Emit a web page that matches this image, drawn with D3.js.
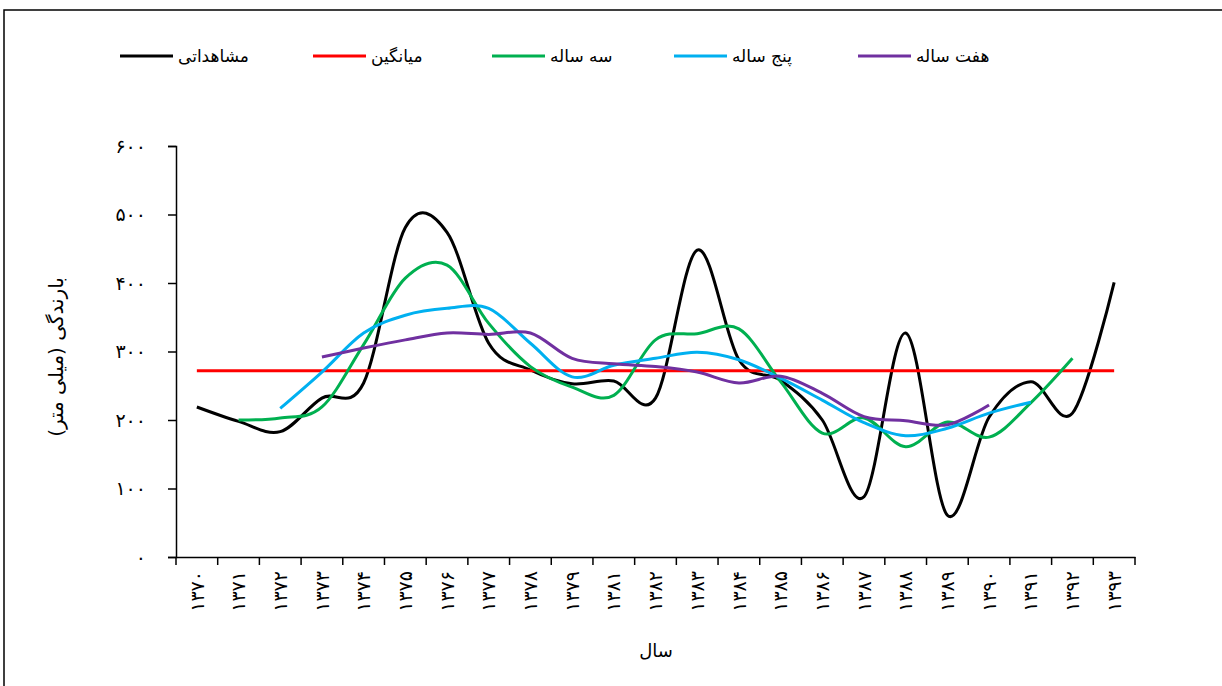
<!DOCTYPE html>
<html>
<head>
<meta charset="utf-8">
<script src="https://cdn.jsdelivr.net/npm/d3@7"></script>
<style>
  html, body { margin: 0; padding: 0; background: #fff; }
  svg { display: block; }
  text { font-family: "DejaVu Sans", sans-serif; }
</style>
</head>
<body>
<svg id="chart" width="1222" height="686"></svg>
<script>
const categories = ["۱۳۷۰","۱۳۷۱","۱۳۷۲","۱۳۷۳","۱۳۷۴","۱۳۷۵","۱۳۷۶","۱۳۷۷","۱۳۷۸","۱۳۷۹","۱۳۸۱","۱۳۸۲","۱۳۸۳","۱۳۸۴","۱۳۸۵","۱۳۸۶","۱۳۸۷","۱۳۸۸","۱۳۸۹","۱۳۹۰","۱۳۹۱","۱۳۹۲","۱۳۹۳"];
const observed = [219,198,183,232,254,481,474,312,273,253,257,232,448,288,258,200,88,327,61,204,256,210,401];
const meanValue = 272;
const threeYear = [null,200,203,219,310,407,426,341,278,248,236,317,326,333,256,181,203,161,197,175,225,290,null];
const fiveYear = [null,null,217,270,327,353,363,363,312,263,280,290,299,288,261,229,196,177,188,210,226,null,null];
const sevenYear = [null,null,null,292,305,317,327,325,327,290,282,278,270,254,264,239,205,199,193,222,null,null,null];
const yTicks = [0,100,200,300,400,500,600];
const yTickLabels = ["۰","۱۰۰","۲۰۰","۳۰۰","۴۰۰","۵۰۰","۶۰۰"];
const seriesNames = ["مشاهداتی","میانگین","سه ساله","پنج ساله","هفت ساله"];
const seriesColors = ["#000000","#FF0000","#00B050","#00B0F0","#7030A0"];
const xTitle = "سال";
const yTitle = "بارندگی (میلی متر)";

const svg = d3.select("#chart");

// outer border
svg.append("rect").attr("x", 4).attr("y", 10).attr("width", 1400).attr("height", 900)
  .attr("fill", "none").attr("stroke", "#000").attr("stroke-width", 1.5);

const pLeft = 176, pRight = 1135, pTop = 146, pBottom = 557;
const x = d3.scaleBand().domain(categories).range([pLeft, pRight]).padding(0);
const y = d3.scaleLinear().domain([0, 600]).range([pBottom, pTop]);
const cx = c => x(c) + x.bandwidth() / 2;

// y axis
const yAxis = d3.axisLeft(y).tickValues(yTicks).tickSize(8).tickPadding(22)
  .tickFormat((d, i) => yTickLabels[i]);
const gy = svg.append("g").attr("transform", `translate(${pLeft},0)`).call(yAxis);
gy.select(".domain").attr("stroke", "#000").attr("stroke-width", 1.5);
gy.selectAll(".tick line").attr("stroke", "#000").attr("stroke-width", 1.5);
gy.selectAll(".tick text").attr("font-size", 19).attr("fill", "#000")
  .attr("font-family", "DejaVu Sans, sans-serif");

// x axis: labels via axis, boundary ticks separately
const xAxis = d3.axisBottom(x).tickSize(0).tickPadding(0);
const gx = svg.append("g").attr("transform", `translate(0,${pBottom})`).call(xAxis);
gx.select(".domain").attr("stroke", "#000").attr("stroke-width", 1.5);
gx.selectAll(".tick text")
  .attr("font-size", 19).attr("fill", "#000")
  .attr("font-family", "DejaVu Sans, sans-serif")
  .attr("text-anchor", "end")
  .attr("y", 0)
  .attr("dy", "0.35em")
  .attr("transform", "translate(0,14) rotate(-90)");
const boundaries = categories.map(c => x(c)).concat([x(categories[categories.length - 1]) + x.bandwidth()]);
gx.selectAll(".bt").data(boundaries).enter().append("line")
  .attr("x1", d => d).attr("x2", d => d).attr("y1", 0).attr("y2", 8)
  .attr("stroke", "#000").attr("stroke-width", 1.5);

// axis titles
svg.append("text").attr("x", 656).attr("y", 657).attr("text-anchor", "middle")
  .attr("font-size", 18).attr("fill", "#000").text(xTitle);
svg.append("text").attr("transform", "translate(56,357) rotate(-90)")
  .attr("text-anchor", "middle").attr("dy", "0.35em")
  .attr("font-size", 20).attr("fill", "#000").text(yTitle);

// lines
const line = d3.line()
  .x(d => cx(d.c)).y(d => y(d.v))
  .curve(d3.curveCardinal.tension(0));
const toPts = arr => arr.map((v, i) => ({ c: categories[i], v: v }))
  .filter(d => d.v !== null);
const meanArr = categories.map(() => meanValue);

const drawOrder = [
  { data: observed, color: seriesColors[0] },
  { data: meanArr, color: seriesColors[1] },
  { data: threeYear, color: seriesColors[2] },
  { data: fiveYear, color: seriesColors[3] },
  { data: sevenYear, color: seriesColors[4] }
];
drawOrder.forEach(s => {
  svg.append("path").datum(toPts(s.data))
    .attr("d", line)
    .attr("fill", "none").attr("stroke", s.color).attr("stroke-width", 3)
    .attr("stroke-linejoin", "round");
});

// legend
const legendX = [120, 313, 492, 674, 858];
const lg = svg.append("g");
seriesNames.forEach((name, i) => {
  lg.append("line").attr("x1", legendX[i]).attr("x2", legendX[i] + 53).attr("y1", 56).attr("y2", 56)
    .attr("stroke", seriesColors[i]).attr("stroke-width", 3);
  lg.append("text").attr("x", legendX[i] + 58).attr("y", 56).attr("dy", "0.35em")
    .attr("text-anchor", "start").attr("font-size", 17).attr("fill", "#000")
    .text(name);
});
</script>
</body>
</html>
